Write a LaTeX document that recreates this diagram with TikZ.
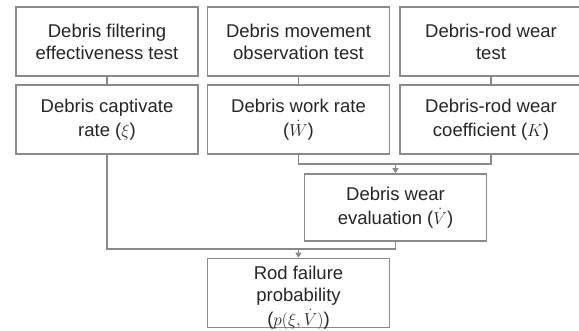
\documentclass[tikz,border=0pt]{standalone}
\usepackage{fontspec}
\setmainfont{Liberation Sans}
\usetikzlibrary{arrows.meta}
\definecolor{boxgray}{HTML}{8A8A8A}
\definecolor{txtgray}{HTML}{262626}
\begin{document}
\begin{tikzpicture}[x=1pt,y=-1pt,
  box/.style={draw=boxgray, line width=1.6pt, fill=white, minimum width=182pt,
    minimum height=69pt, inner sep=0pt, align=center,
    font=\fontsize{18.5}{22}\selectfont, text=txtgray},
  txt/.style={inner sep=0pt, align=center, font=\fontsize{18.5}{22.5}\selectfont, text=txtgray},
  conn/.style={draw=boxgray, line width=1.4pt},
  arr/.style={conn, -{Triangle[width=6pt,length=5pt]}}]
\useasboundingbox (0,0) rectangle (579,330);
\node[box] (b1) at (107,41.5) {Debris filtering\\effectiveness test};
\node[box] (b2) at (298.5,41.5) {Debris movement\\observation test};
\node[box] (b3) at (491,41.5) {Debris-rod wear\\test};
\node[box] (c1) at (107,119.5) {Debris captivate\\[2pt]rate ($\xi$)};
\node[box] (c2) at (298.5,119.5) {Debris work rate\\[2pt]($\dot{W}$)};
\node[box] (c3) at (491,119.5) {Debris-rod wear\\[2pt]coefficient ($K$)};
\node[box, minimum height=67pt] (ev) at (395.5,207.5) {Debris wear\\[2pt]evaluation ($\dot{V}$)};
\node[box] (rod) at (298.5,293) {};
\node[txt] (rodt) at (298.5,297.5) {Rod failure\\probability\\[1pt]($p(\xi,\dot{V})$)};
\draw[conn] (b1.south) -- (c1.north);
\draw[conn] (b2.south) -- (c2.north);
\draw[conn] (b3.south) -- (c3.north);
\coordinate (m1) at (ev.north |- 0,164);
\coordinate (m2) at (rod.north |- 0,249);
\draw[conn] (c2.south) |- (m1) -| (c3.south);
\draw[arr] (m1) -- (ev.north);
\draw[conn] (c1.south) |- (m2) -| (ev.south);
\draw[arr] (m2) -- (rod.north);
\end{tikzpicture}
\end{document}
